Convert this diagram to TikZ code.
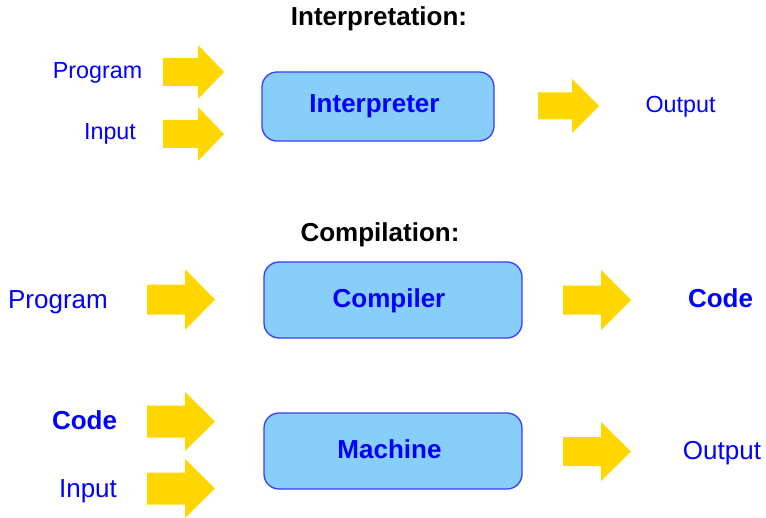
\documentclass[tikz,border=0pt]{standalone}
\usepackage{fontspec}
\setmainfont{Liberation Sans}
\definecolor{txtblue}{RGB}{0,0,255}
\definecolor{boxfill}{RGB}{135,206,250}
\definecolor{boxdraw}{RGB}{60,60,255}
\definecolor{arrowgold}{RGB}{255,214,0}
\newcommand\blockarrow[6]{% x-start, x-head, x-tip, y-center, shaft half, head half
  \fill[arrowgold] (#1,{#4-#5}) -- (#2,{#4-#5}) -- (#2,{#4-#6}) -- (#3,#4)
    -- (#2,{#4+#6}) -- (#2,{#4+#5}) -- (#1,{#4+#5}) -- cycle;}
\begin{document}
\begin{tikzpicture}[x=1bp,y=-1bp,
  lbl/.style={inner sep=0pt,anchor=base,text=txtblue,font=\fontsize{26bp}{30bp}\selectfont},
  lblsmall/.style={inner sep=0pt,anchor=base,text=txtblue,font=\fontsize{23.3bp}{28bp}\selectfont},
  lblbold/.style={inner sep=0pt,anchor=base,text=txtblue,font=\fontsize{26bp}{30bp}\selectfont\bfseries},
  title/.style={inner sep=0pt,anchor=base,text=black,font=\fontsize{26bp}{30bp}\selectfont\bfseries},
  procbox/.style={draw=boxdraw,line width=1.3bp,fill=boxfill,rounded corners=15bp,
    rectangle,inner sep=0pt}]
\useasboundingbox (0,0) rectangle (766,518);
% titles
\node[title] (t1) at (379,26) {Interpretation:};
\node[title] (t2) at (380,242) {Compilation:};
% boxes
\node[procbox,minimum width=232bp,minimum height=69bp] (interpbox) at (378,106.5) {};
\node[procbox,minimum width=258bp,minimum height=76bp] (compbox) at (393,300) {};
\node[procbox,minimum width=258bp,minimum height=76bp] (machbox) at (393,451) {};
\node[lblbold] (interp) at (374.5,113) {Interpreter};
\node[lblbold] (comp) at (389,307) {Compiler};
\node[lblbold] (mach) at (389.5,458) {Machine};
% labels
\node[lblsmall] (prog1) at (97.5,79) {Program};
\node[lblsmall] (in1) at (110,140) {Input};
\node[lblsmall] (out1) at (680.5,113) {Output};
\node[lbl] (prog2) at (58,308) {Program};
\node[lblbold] (code2) at (720.5,307) {Code};
\node[lblbold] (code3) at (84.5,429) {Code};
\node[lbl] (in3) at (88,497) {Input};
\node[lbl] (out3) at (722,459) {Output};
% block arrows
\blockarrow{163}{198}{224}{72}{14}{27}
\blockarrow{163}{198}{224}{134}{14}{27}
\blockarrow{538}{572}{599}{106}{13.5}{27}
\blockarrow{147}{185}{215}{299.5}{15}{30.5}
\blockarrow{563}{601}{631}{300}{14.5}{30}
\blockarrow{147}{185}{215}{421.5}{16}{29.5}
\blockarrow{147}{185}{215}{488.5}{16}{29.5}
\blockarrow{563}{601}{631}{451.5}{14.5}{29.5}
\end{tikzpicture}
\end{document}
